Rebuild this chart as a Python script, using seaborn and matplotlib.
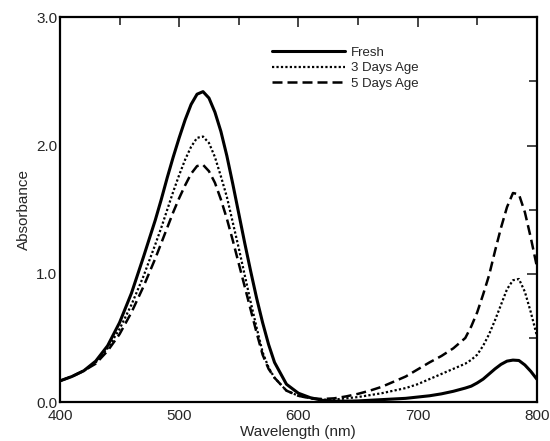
import numpy as np
import pandas as pd
import seaborn as sns
import matplotlib.pyplot as plt
from matplotlib.ticker import MultipleLocator

# Datos (nm, absorbancia)
wavelength = [400, 410, 420, 430, 440, 450, 460, 470, 480, 485, 490, 495, 500, 505, 510, 515,
              520, 525, 530, 535, 540, 545, 550, 555, 560, 565, 570, 575, 580, 590, 600, 610,
              620, 630, 640, 650, 660, 670, 680, 690, 700, 710, 720, 730, 740, 745, 750, 755,
              760, 765, 770, 775, 780, 785, 790, 795, 800]

fresh = [0.166, 0.20, 0.245, 0.32, 0.44, 0.62, 0.85, 1.13, 1.42, 1.58, 1.75, 1.91, 2.06, 2.20,
         2.32, 2.40, 2.42, 2.37, 2.26, 2.11, 1.92, 1.70, 1.47, 1.24, 1.02, 0.81, 0.62, 0.45,
         0.31, 0.14, 0.07, 0.035, 0.015, 0.008, 0.008, 0.01, 0.015, 0.02, 0.025, 0.03, 0.04,
         0.05, 0.065, 0.085, 0.11, 0.125, 0.15, 0.18, 0.22, 0.26, 0.295, 0.32, 0.328, 0.325,
         0.29, 0.24, 0.18]

days3 = [0.166, 0.20, 0.245, 0.31, 0.42, 0.57, 0.76, 0.98, 1.23, 1.36, 1.50, 1.64, 1.77, 1.89,
         1.99, 2.06, 2.07, 2.02, 1.91, 1.76, 1.60, 1.40, 1.20, 0.99, 0.78, 0.58, 0.39, 0.27,
         0.19, 0.09, 0.05, 0.03, 0.02, 0.02, 0.03, 0.04, 0.055, 0.07, 0.09, 0.11, 0.14,
         0.18, 0.22, 0.26, 0.30, 0.33, 0.37, 0.44, 0.53, 0.64, 0.76, 0.88, 0.95, 0.96,
         0.86, 0.70, 0.52]

days5 = [0.166, 0.20, 0.245, 0.30, 0.40, 0.53, 0.70, 0.90, 1.12, 1.24, 1.36, 1.48, 1.59, 1.69,
         1.78, 1.84, 1.85, 1.80, 1.71, 1.58, 1.43, 1.26, 1.08, 0.90, 0.72, 0.54, 0.37, 0.26,
         0.19, 0.09, 0.05, 0.03, 0.025, 0.03, 0.045, 0.065, 0.09, 0.12, 0.16, 0.20, 0.255,
         0.31, 0.36, 0.42, 0.50, 0.59, 0.70, 0.84, 0.99, 1.18, 1.36, 1.52, 1.63, 1.62,
         1.48, 1.28, 1.06]

series = ['Fresh', '3 Days Age', '5 Days Age']

df = pd.DataFrame({'Wavelength': wavelength * 3,
                   'Absorbance': fresh + days3 + days5,
                   'Muestra': [series[0]] * len(wavelength) + [series[1]] * len(wavelength)
                              + [series[2]] * len(wavelength)})

sns.set_style('white')
plt.rcParams['font.family'] = ['Liberation Sans', 'DejaVu Sans']

fig = plt.figure(figsize=(5.5, 4.41), dpi=100)
ax = fig.add_axes([0.109, 0.088, 0.867, 0.873])

estilos = {'Fresh': dict(linestyle='-', linewidth=2.2),
           '3 Days Age': dict(linestyle=(0, (1, 1)), linewidth=1.6),
           '5 Days Age': dict(linestyle=(0, (4, 2)), linewidth=1.8)}

for s in series:
    sns.lineplot(data=df[df['Muestra'] == s], x='Wavelength', y='Absorbance',
                 color='black', label=s, ax=ax, **estilos[s])

ax.set_xlim(400, 800)
ax.set_ylim(0, 3.0)
ax.xaxis.set_major_locator(MultipleLocator(100))
ax.xaxis.set_minor_locator(MultipleLocator(50))
ax.yaxis.set_major_locator(MultipleLocator(1.0))
ax.yaxis.set_minor_locator(MultipleLocator(0.5))
ax.yaxis.set_major_formatter(plt.FormatStrFormatter('%.1f'))
ax.tick_params(which='both', direction='in', top=True, right=True, width=1.2,
               labelsize=11, pad=2)
ax.tick_params(axis='x', which='major', pad=5)
ax.tick_params(which='major', length=7)
ax.tick_params(which='minor', length=6)
for sp in ax.spines.values():
    sp.set_color('black')
    sp.set_linewidth(1.6)

ax.set_xlabel('Wavelength (nm)', fontsize=11, labelpad=1)
ax.set_ylabel('Absorbance', fontsize=11, labelpad=4)

ax.legend(loc='upper left', bbox_to_anchor=(0.42, 0.955), frameon=False,
          handlelength=5.5, fontsize=9.5, labelspacing=0.25, handletextpad=0.5)

plt.savefig('out.png', dpi=100)
